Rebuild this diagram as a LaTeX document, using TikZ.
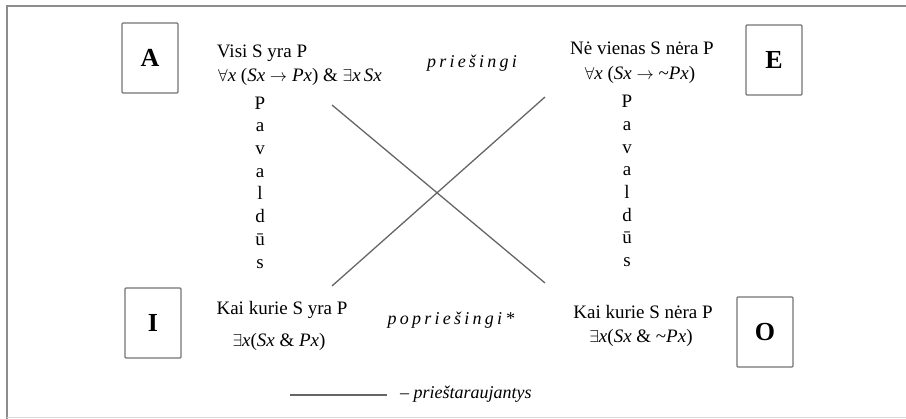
\documentclass[tikz,border=0pt]{standalone}
\usepackage{fontspec}
\setmainfont{Liberation Serif}
\begin{document}
\begin{tikzpicture}[x=1pt,y=-1pt,
  frame/.style={draw=black!45,line width=1.4pt},
  letterbox/.style={draw=black!55,line width=1.2pt,rounded corners=1pt,minimum width=56pt,minimum height=70pt,inner sep=0pt,font=\fontsize{26}{30}\selectfont\bfseries},
  txt/.style={inner sep=0pt,font=\fontsize{19}{22}\selectfont},
  col/.style={inner sep=0pt,align=center,font=\fontsize{19}{22.7}\selectfont},
  rel/.style={inner sep=0pt,font=\fontsize{18}{22}\selectfont\itshape\addfontfeature{LetterSpace=18}},
  cross/.style={draw=black!60,line width=1.3pt}]
\useasboundingbox (0,0) rectangle (906,419);
% outer frame
\draw[frame] (906,6) -- (7,6) -- (7,419);
\draw[draw=black!15,line width=1pt] (7,418) -- (906,418);
% letter boxes
\node[letterbox] (A) at (150,58) {A};
\node[letterbox] (E) at (774,60) {E};
\node[letterbox] (I) at (153,323) {I};
\node[letterbox] (O) at (765,332) {O};
% statements
\node[txt] (Atxt) at (262,53) {Visi S yra P};
\node[txt] (Afor) at (300,77) {\(\forall\)\textit{x} (\textit{Sx} \(\rightarrow\) \textit{Px}) \& \(\exists\)\textit{x}\,\textit{Sx}};
\node[txt] (Etxt) at (642,48) {Nė vienas S nėra P};
\node[txt] (Efor) at (640,75) {\(\forall\)\textit{x} (\textit{Sx} \(\rightarrow\) \textasciitilde\textit{Px})};
\node[txt] (Itxt) at (282,310) {Kai kurie S yra P};
\node[txt] (Ifor) at (279,342) {\(\exists\)\textit{x}(\textit{Sx} \& \textit{Px})};
\node[txt] (Otxt) at (643,312) {Kai kurie S nėra P};
\node[txt] (Ofor) at (641,338) {\(\exists\)\textit{x}(\textit{Sx} \& \textasciitilde\textit{Px})};
% subalterns
\node[col] (Lpav) at (260,182.5) {P\\a\\v\\a\\l\\d\\ū\\s};
\node[col] (Rpav) at (627,181) {P\\a\\v\\a\\l\\d\\ū\\s};
% relations
\node[rel] (contr) at (472,63) {priešingi};
\node[rel] (subc) at (451,320) {popriešingi*};
% diagonals
\coordinate (d1s) at (332,105);
\coordinate (d1e) at (545,283);
\coordinate (d2s) at (545,97);
\coordinate (d2e) at (332,286);
\draw[cross] (d1s) -- (d1e);
\draw[cross] (d2s) -- (d2e);
% legend
\coordinate (lg1) at (290,395);
\coordinate (lg2) at (387,395);
\draw[cross] (lg1) -- (lg2);
\node[txt,anchor=west,font=\fontsize{18}{22}\selectfont\itshape] (lgt) at (400,394) {– prieštaraujantys};
\end{tikzpicture}
\end{document}
